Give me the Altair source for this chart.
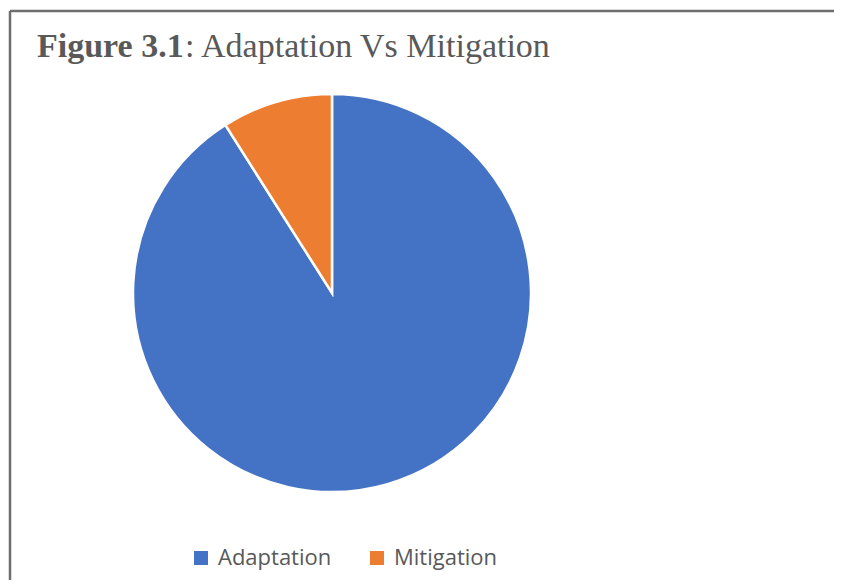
import altair as alt
import pandas as pd

categories = ["Adaptation", "Mitigation"]
values = [91, 9]
colors = ["#4472C4", "#ED7D31"]
title_bold = "Figure 3.1"
title_rest = ": Adaptation Vs Mitigation"

df = pd.DataFrame({"category": categories, "value": values, "order": [0, 1]})

W, H = 826, 572

pie = alt.Chart(df).mark_arc(outerRadius=199, stroke="white", strokeWidth=2.5).encode(
    theta=alt.Theta("value:Q", stack=True),
    order=alt.Order("order:Q"),
    color=alt.Color(
        "category:N",
        scale=alt.Scale(domain=categories, range=colors),
        legend=alt.Legend(
            title=None,
            orient="none",
            legendX=182,
            legendY=539,
            direction="horizontal",
            symbolType="square",
            symbolSize=196,
            symbolStrokeWidth=0,
            labelFont="Open Sans",
            labelFontSize=22,
            labelColor="#595959",
            labelOffset=6,
            columnPadding=34,
            labelLimit=300,
        ),
    ),
    x=alt.value(324),
    y=alt.value(285),
)

tdf = pd.DataFrame({"a": [title_bold], "b": [title_rest]})
t1 = alt.Chart(tdf).mark_text(
    font="Liberation Serif", fontSize=34, fontWeight="bold", color="#595959",
    align="left", baseline="alphabetic",
).encode(text="a:N", x=alt.value(29), y=alt.value(49))
t2 = alt.Chart(tdf).mark_text(
    font="Liberation Serif", fontSize=34, color="#595959",
    align="left", baseline="alphabetic",
).encode(text="b:N", x=alt.value(177), y=alt.value(49))

top = alt.Chart(tdf).mark_rule(color="#6e6e6e", strokeWidth=2.5).encode(
    x=alt.value(2), x2=alt.value(W + 20), y=alt.value(3)
)
left = alt.Chart(tdf).mark_rule(color="#6e6e6e", strokeWidth=2.5).encode(
    x=alt.value(2), y=alt.value(3), y2=alt.value(H + 20)
)

chart = alt.layer(top, left, pie, t1, t2).properties(
    width=W, height=H, padding=0
).configure_view(stroke=None, clip=True)

chart.save("out.html", embed_options={"renderer": "svg", "actions": False})
